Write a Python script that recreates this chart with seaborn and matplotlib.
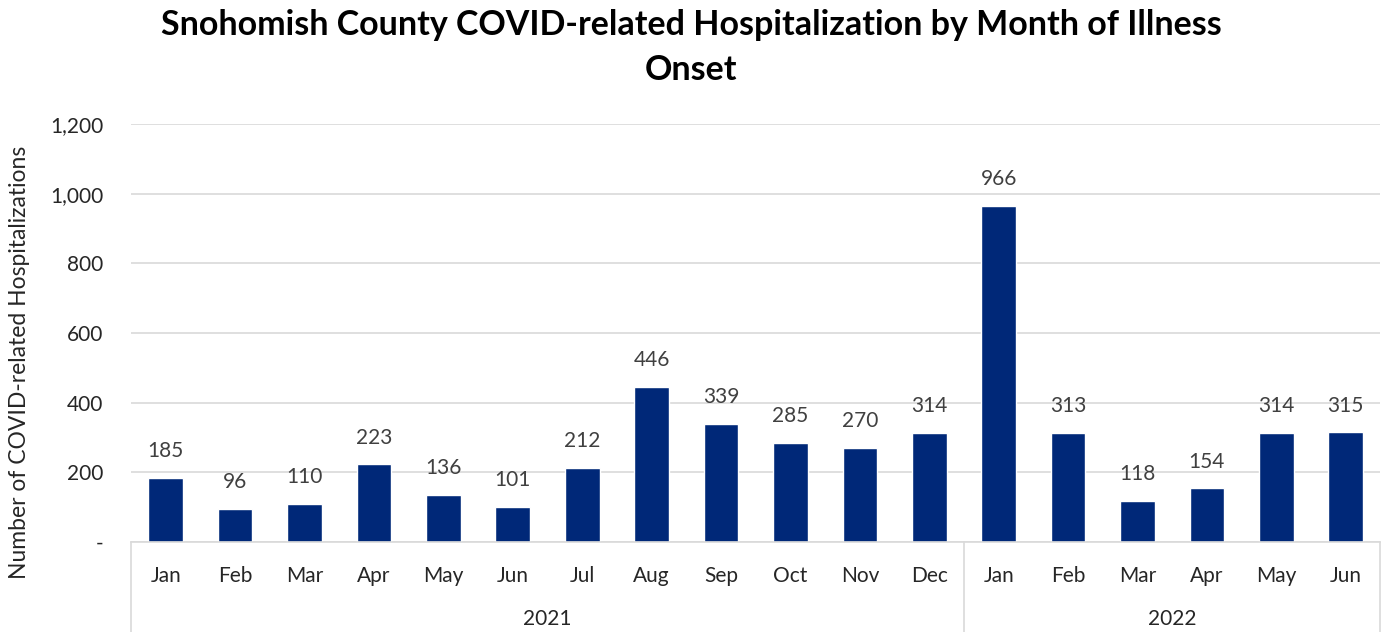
import pandas as pd
import matplotlib.pyplot as plt
import seaborn as sns
from matplotlib.ticker import FuncFormatter

# data
months = ["Jan", "Feb", "Mar", "Apr", "May", "Jun", "Jul", "Aug", "Sep", "Oct", "Nov", "Dec",
          "Jan", "Feb", "Mar", "Apr", "May", "Jun"]
years = ["2021"] * 12 + ["2022"] * 6
hospitalizations = [185, 96, 110, 223, 136, 101, 212, 446, 339, 285, 270, 314,
                    966, 313, 118, 154, 314, 315]

df = pd.DataFrame({"pos": range(len(months)), "month": months, "year": years,
                   "value": hospitalizations})

sns.set_style("white")
plt.rcParams['font.family'] = ['Lato', 'DejaVu Sans']

fig = plt.figure(figsize=(13.82, 6.32), dpi=100)
ax = fig.add_axes([0.0948, 0.1424, 0.9041, 0.6614])

bar_color = "#002878"
sns.barplot(data=df, x="pos", y="value", color=bar_color, width=0.5,
            saturation=1, ax=ax)

ax.set_ylim(0, 1200)
ax.set_xlim(-0.5, len(months) - 0.5)
ax.set_yticks(range(0, 1201, 200))
ax.yaxis.set_major_formatter(FuncFormatter(lambda v, p: "-" if v == 0 else f"{int(v):,}"))
ax.grid(axis="y", color="#D9D9D9", linewidth=1.2)
ax.set_axisbelow(True)
for side in ["left", "right", "top"]:
    ax.spines[side].set_visible(False)
ax.spines["bottom"].set_color("#D9D9D9")
ax.spines["bottom"].set_linewidth(1.2)

ax.set_xticks(range(len(months)))
ax.set_xticklabels(months)
ax.tick_params(axis="x", length=0, pad=17, labelsize=15, colors="#262626")
ax.tick_params(axis="y", length=0, pad=20, labelsize=15, colors="#262626")
ax.set_xlabel("")
ax.set_ylabel("Number of COVID-related Hospitalizations", fontsize=16.5, color="#262626")
ax.yaxis.set_label_coords(-0.081, 0.43)

# value labels
for i, v in enumerate(hospitalizations):
    ax.annotate(f"{v}", (i, v), xytext=(0, 12), textcoords="offset points",
                ha="center", va="bottom", fontsize=15, color="#404040")

# two-level category axis
trans = ax.get_xaxis_transform()
for xb in [-0.5, 11.5, len(months) - 0.5]:
    ax.plot([xb, xb], [0, -0.22], transform=trans, color="#D9D9D9", lw=1.2, clip_on=False)
for yr in ["2021", "2022"]:
    idx = df.index[df["year"] == yr]
    ax.text((idx.min() + idx.max()) / 2, -0.184, yr, transform=trans, ha="center",
            va="center", fontsize=15, color="#262626")

fig.text(0.5, 0.96, "Snohomish County COVID-related Hospitalization by Month of Illness",
         ha="center", va="center", fontsize=24.5, fontweight="bold", color="black")
fig.text(0.5, 0.889, "Onset", ha="center", va="center", fontsize=24.5, fontweight="bold",
         color="black")

fig.savefig("out.png", dpi=100)
